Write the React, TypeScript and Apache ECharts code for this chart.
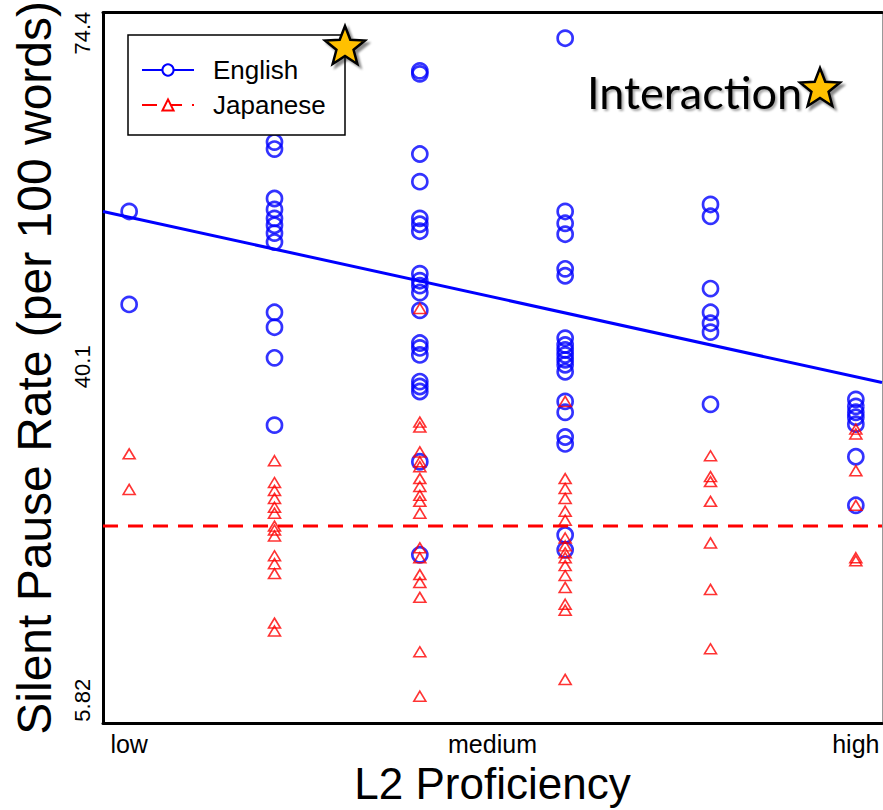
import React, { useEffect, useRef } from "react";
import * as echarts from "echarts";

// proficiency levels (x positions 0..5)
const levels = [0, 1, 2, 3, 4, 5];
const xTickValues = [0, 2.5, 5];
const xTickLabels = ["low", "medium", "high"];
const yTickValues = [5.82, 40.1, 74.4];

// English silent pause rates per level
const english0 = [56.07, 46.51];
const english1 = [63.2, 62.48, 57.4, 56.28, 55.36, 54.65, 53.84, 52.92, 45.7, 44.17, 41.02, 34.1];
const english2 = [70.52, 70.21, 61.97, 59.13, 55.36, 54.75, 54.04, 49.67, 48.95, 48.44, 47.73, 45.9, 42.54, 42.04, 41.32, 38.58, 38.07, 37.56, 30.34, 20.77];
const english3 = [73.88, 56.07, 54.85, 53.73, 50.17, 49.46, 43.05, 42.34, 41.83, 41.32, 40.81, 40.31, 39.59, 36.54, 35.42, 32.88, 32.17, 22.81, 21.28];
const english4 = [56.79, 55.57, 48.14, 45.7, 44.58, 43.66, 36.24];
const english5 = [36.75, 36.03, 35.42, 34.91, 34.2, 30.85, 25.86];

// Japanese silent pause rates per level
const japanese0 = [31.15, 27.49];
const japanese1 = [30.44, 28.2, 27.39, 26.57, 25.66, 25.05, 23.72, 23.32, 22.71, 20.67, 19.86, 18.84, 13.75, 12.94];
const japanese2 = [46.1, 34.41, 33.9, 31.35, 30.34, 29.83, 28.61, 27.79, 26.88, 26.27, 25.05, 21.49, 20.47, 18.74, 17.93, 16.4, 10.8, 6.23];
const japanese3 = [36.54, 28.61, 27.59, 26.57, 25.25, 24.33, 22.5, 21.69, 20.98, 20.47, 19.66, 18.64, 17.42, 15.69, 15.08, 7.96];
const japanese4 = [30.95, 28.81, 28.3, 26.27, 21.99, 17.21, 11.11];
const japanese5 = [33.69, 33.19, 29.42, 25.86, 20.47, 20.16];

const englishByLevel = [english0, english1, english2, english3, english4, english5];
const japaneseByLevel = [japanese0, japanese1, japanese2, japanese3, japanese4, japanese5];

// fitted lines (values at the x-range ends)
const fitX = [-0.18, 5.18];
const englishFit = [56.07, 38.48];
const japaneseFit = [23.72, 23.72];

const X_MIN = -0.18;
const X_MAX = 5.18;
const Y_MIN = 3.48;
const Y_MAX = 76.5;

function toPoints(byLevel: number[][]) {
  const out: number[][] = [];
  byLevel.forEach((vals, i) => vals.forEach((v) => out.push([levels[i], v])));
  return out;
}

function starPoints(cx: number, cy: number, R: number, r: number) {
  const pts: number[][] = [];
  for (let i = 0; i < 10; i++) {
    const a = -Math.PI / 2 + (i * Math.PI) / 5;
    const rad = i % 2 === 0 ? R : r;
    pts.push([cx + rad * Math.cos(a), cy + rad * Math.sin(a)]);
  }
  return pts;
}

export default function App() {
  const ref = useRef<HTMLDivElement>(null);
  useEffect(() => {
    document.body.style.margin = "0";
    const chart = echarts.init(ref.current!, null, { renderer: "svg" });
    const font = "'Liberation Sans', Arial, sans-serif";
    const starStyle = {
      fill: "#FFC000",
      stroke: "#000",
      lineWidth: 2.5,
      shadowBlur: 2,
      shadowColor: "rgba(0,0,0,0.45)",
      shadowOffsetX: 3,
      shadowOffsetY: 3,
    };
    chart.setOption({
      animation: false,
      backgroundColor: "#fff",
      grid: { left: 103, right: 1, top: 9, bottom: 83, containLabel: false },
      xAxis: [
        {
          type: "value",
          min: X_MIN,
          max: X_MAX,
          splitLine: { show: false },
          axisTick: { show: false },
          axisLine: { show: true, onZero: false, lineStyle: { color: "#000", width: 3 } },
          axisLabel: {
            customValues: xTickValues,
            formatter: (v: number) => xTickLabels[xTickValues.indexOf(v)] ?? "",
            color: "#000",
            fontFamily: font,
            fontSize: 25,
            margin: 8,
          },
          name: "L2 Proficiency",
          nameLocation: "middle",
          nameGap: 38,
          nameTextStyle: { color: "#000", fontFamily: font, fontSize: 44 },
        },
        {
          type: "value",
          position: "top",
          min: X_MIN,
          max: X_MAX,
          splitLine: { show: false },
          axisTick: { show: false },
          axisLabel: { show: false },
          axisLine: { show: true, onZero: false, lineStyle: { color: "#000", width: 3 } },
        },
      ],
      yAxis: [
        {
          type: "value",
          min: Y_MIN,
          max: Y_MAX,
          splitLine: { show: false },
          axisTick: { show: false },
          axisLine: { show: true, onZero: false, lineStyle: { color: "#000", width: 3 } },
          axisLabel: {
            customValues: yTickValues,
            formatter: (v: number) => String(v),
            rotate: 90,
            color: "#000",
            fontFamily: font,
            fontSize: 22,
            margin: 10,
          },
          name: "Silent Pause Rate (per 100 words)",
          nameLocation: "middle",
          nameGap: 45,
          nameTextStyle: { color: "#000", fontFamily: font, fontSize: 48 },
        },
        {
          type: "value",
          position: "right",
          min: Y_MIN,
          max: Y_MAX,
          splitLine: { show: false },
          axisTick: { show: false },
          axisLabel: { show: false },
          axisLine: { show: true, onZero: false, lineStyle: { color: "#999", width: 1 } },
        },
      ],
      legend: {
        orient: "vertical",
        left: 136,
        top: 52,
        z: 20,
        data: ["English", "Japanese"],
        itemWidth: 52,
        itemHeight: 14,
        itemGap: 9,
        textStyle: { color: "#000", fontFamily: font, fontSize: 26, padding: [0, 0, 0, 14] },
      },
      graphic: [
        {
          type: "rect",
          z: 10,
          shape: { x: 128, y: 35, width: 217, height: 100 },
          style: { fill: "#fff", stroke: "#000", lineWidth: 1.5 },
        },
        {
          type: "polygon",
          z: 30,
          shape: { points: starPoints(345, 47, 21, 9) },
          style: starStyle,
        },
        {
          type: "text",
          z: 30,
          x: 587,
          y: 92,
          style: {
            text: "Interaction",
            font: "45px Lato, 'Open Sans', sans-serif",
            fill: "#000",
            verticalAlign: "middle",
            textShadowColor: "rgba(0,0,0,0.35)",
            textShadowOffsetX: 2,
            textShadowOffsetY: 2,
            textShadowBlur: 2,
          },
        },
        {
          type: "polygon",
          z: 30,
          shape: { points: starPoints(820, 89, 21, 9) },
          style: starStyle,
        },
      ],
      series: [
        {
          name: "English points",
          type: "scatter",
          data: toPoints(englishByLevel),
          symbol: "circle",
          symbolSize: 15,
          itemStyle: { color: "rgba(0,0,0,0)", borderColor: "#0000FF", borderWidth: 2.7 },
          z: 3,
        },
        {
          name: "Japanese points",
          type: "scatter",
          data: toPoints(japaneseByLevel),
          symbol: "triangle",
          symbolSize: [12, 10],
          itemStyle: { color: "rgba(0,0,0,0)", borderColor: "#FF0000", borderWidth: 1.6 },
          z: 3,
        },
        {
          name: "English",
          type: "line",
          data: fitX.map((x, i) => [x, englishFit[i]]),
          symbol: "emptyCircle",
          symbolSize: 10,
          showSymbol: false,
          itemStyle: { color: "#0000FF", borderWidth: 2 },
          lineStyle: { color: "#0000FF", width: 3 },
          z: 4,
        },
        {
          name: "Japanese",
          type: "line",
          data: fitX.map((x, i) => [x, japaneseFit[i]]),
          symbol: "emptyTriangle",
          symbolSize: 12,
          showSymbol: false,
          itemStyle: { color: "#FF0000", borderWidth: 2 },
          lineStyle: { color: "#FF0000", width: 3, type: [15, 10] },
          z: 4,
        },
      ],
    });
    return () => chart.dispose();
  }, []);
  return <div ref={ref} style={{ width: 883, height: 810 }} />;
}
